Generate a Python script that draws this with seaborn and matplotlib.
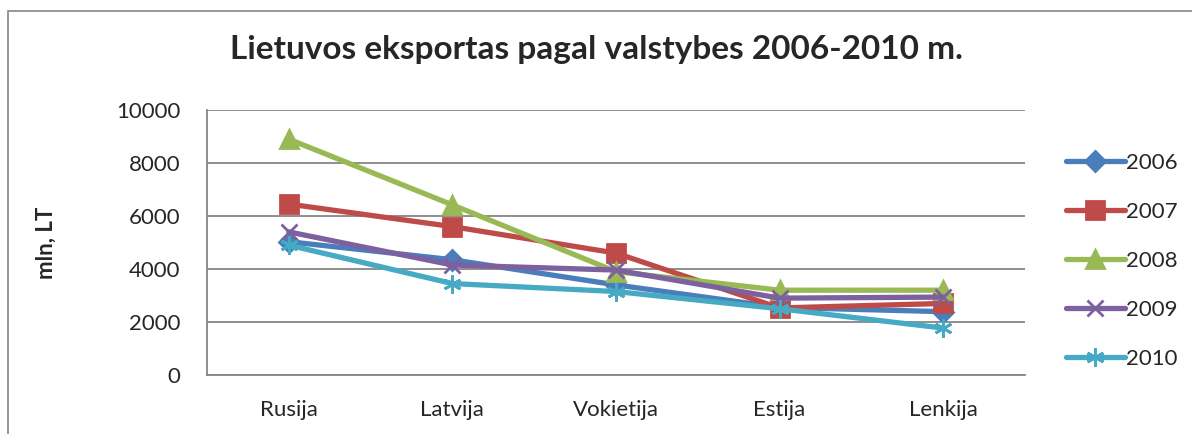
import matplotlib
matplotlib.use("Agg")
import matplotlib.pyplot as plt
import seaborn as sns
import pandas as pd
from matplotlib.patches import Rectangle
from matplotlib.lines import Line2D

countries = ["Rusija", "Latvija", "Vokietija", "Estija", "Lenkija"]
years = ["2006", "2007", "2008", "2009", "2010"]
v2006 = [5030, 4350, 3400, 2550, 2390]
v2007 = [6450, 5600, 4600, 2530, 2700]
v2008 = [8900, 6420, 3900, 3200, 3200]
v2009 = [5400, 4150, 3960, 2900, 2940]
v2010 = [4900, 3450, 3150, 2500, 1770]
yticks = [0, 2000, 4000, 6000, 8000, 10000]

colors = ["#4A7EBB", "#BE4B48", "#98B954", "#7D60A0", "#46AAC5"]
markers = ["D", "s", "^", "x", (6, 2, 0)]
msizes = [10, 13, 13, 12, 13]

sns.set_theme(style="white")
plt.rcParams["font.family"] = ["Lato", "DejaVu Sans"]

fig = plt.figure(figsize=(11.92, 4.34), dpi=100)
ax = fig.add_axes([207/1192, 1-375/434, (1025-207)/1192, (375-110)/434])

for yr, vals, col, m, ms in zip(years, [v2006, v2007, v2008, v2009, v2010], colors, markers, msizes):
    d = pd.DataFrame({"Salis": countries, "Verte": vals})
    sns.lineplot(data=d, x="Salis", y="Verte", color=col, marker=m, markersize=ms,
                 markeredgecolor=col, markerfacecolor=col, markeredgewidth=2,
                 linewidth=3.8, sort=False, ax=ax, label=yr, legend=False)

ax.set_xlim(-0.5, 4.5)
ax.set_ylim(0, 10000)
ax.set_yticks(yticks)
ax.set_yticklabels([str(t) for t in yticks], fontsize=16)
ax.set_xticks(range(len(countries)))
ax.set_xticklabels(countries, fontsize=16)
ax.tick_params(axis="x", length=0, pad=18)
ax.tick_params(axis="y", length=0, pad=19)
ax.yaxis.grid(True, color="#868686", linewidth=1.3)
ax.set_axisbelow(True)
for s in ["top", "right"]:
    ax.spines[s].set_visible(False)
for s in ["left", "bottom"]:
    ax.spines[s].set_color("#868686")
    ax.spines[s].set_linewidth(1.3)
ax.set_xlabel("")
ax.set_ylabel("mln, LT", fontsize=16, fontweight="bold")
ax.yaxis.set_label_coords((57-207)/(1025-207), 0.5)

fig.text(0.5, 1-50/434, "Lietuvos eksportas pagal valstybes 2006-2010 m.",
         ha="center", va="center", fontsize=24, fontweight="bold")

handles = [Line2D([0], [0], color=c, marker=m, markersize=ms, linewidth=3.8,
                  markeredgecolor=c, markeredgewidth=2)
           for c, m, ms in zip(colors, markers, msizes)]
fig.legend(handles, years, loc="center left", bbox_to_anchor=(1057/1192, 1-261/434),
           frameon=False, fontsize=16, handlelength=2.65, handletextpad=0.05,
           labelspacing=1.3, borderaxespad=0)

fig.patches.append(Rectangle((8/1192, -0.1), 1.2, 1-11/434+0.1, transform=fig.transFigure,
                             fill=False, edgecolor="#868686", linewidth=1.2))

fig.savefig("out.png", dpi=100)
